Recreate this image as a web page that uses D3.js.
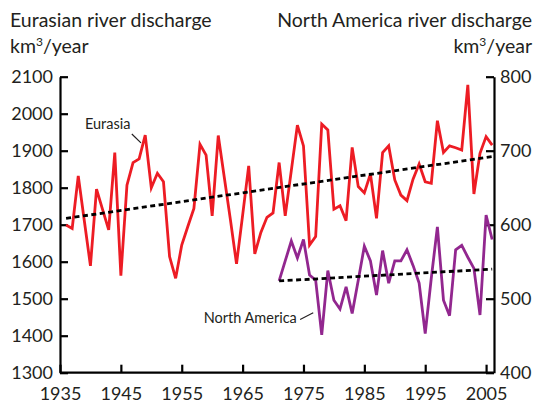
<!DOCTYPE html>
<html>
<head>
<meta charset="utf-8">
<script src="https://cdn.jsdelivr.net/npm/d3@7"></script>
<style>
  html, body { margin: 0; padding: 0; background: #fff; }
  svg { display: block; }
  text { font-family: Lato, "Noto Sans", sans-serif; fill: #231f20; }
</style>
</head>
<body>
<svg id="chart" width="534" height="403"></svg>
<script>
// ---- Data ----
const eurasiaYears = d3.range(1936, 2007);
const eurasiaValues = [
  1699, 1690, 1832, 1710, 1589, 1796, 1741, 1686, 1895, 1562,
  1807, 1868, 1878, 1942, 1800, 1839, 1816, 1614, 1555, 1645,
  1695, 1744, 1917, 1888, 1724, 1941, 1827, 1713, 1594, 1725,
  1859, 1621, 1679, 1720, 1732, 1868, 1724, 1846, 1969, 1913,
  1645, 1668, 1972, 1956, 1742, 1751, 1711, 1909, 1803, 1786,
  1837, 1717, 1895, 1913, 1821, 1780, 1765, 1823, 1864, 1816,
  1812, 1981, 1895, 1913, 1908, 1902, 2078, 1783, 1893, 1938, 1915
];
const naYears = d3.range(1971, 2007);
const naValues = [
  524, 551, 578, 555, 580, 532, 525, 451, 538, 498,
  486, 516, 480, 525, 571, 551, 505, 565, 521, 551,
  551, 566, 545, 521, 453, 528, 597, 498, 477, 566,
  572, 556, 541, 478, 613, 580
];
const eurasiaTrendYears = [1936, 2006];
const eurasiaTrendValues = [1717, 1884];
const naTrendYears = [1971, 2006];
const naTrendValues = [524, 540];

const xTicks = [1935, 1945, 1955, 1965, 1975, 1985, 1995, 2005];
const leftTicks = [1300, 1400, 1500, 1600, 1700, 1800, 1900, 2000, 2100];
const rightTicks = [400, 500, 600, 700, 800];

// ---- Layout ----
const svg = d3.select("#chart");
const plotLeft = 60, plotRight = 494, plotTop = 76.7, plotBottom = 372.7;
const x = d3.scaleLinear().domain([1935, 2006.3]).range([plotLeft, plotRight]);
const yL = d3.scaleLinear().domain([1300, 2100]).range([plotBottom, plotTop]);
const yR = d3.scaleLinear().domain([400, 800]).range([plotBottom, plotTop]);

const RED = "#ed1c24", PURPLE = "#92278f";

// ---- Axes ----
function styleAxis(g) {
  g.selectAll("path.domain").attr("stroke", "#000").attr("stroke-width", 2.2);
  g.selectAll(".tick line").attr("stroke", "#000").attr("stroke-width", 2.2);
  g.selectAll("text").attr("font-size", 18).attr("fill", "#231f20")
    .attr("font-family", "Lato, 'Noto Sans', sans-serif");
}

svg.append("g").attr("transform", `translate(${plotLeft},0)`)
  .call(d3.axisLeft(yL).tickValues(leftTicks).tickFormat(d3.format("d"))
    .tickSizeInner(-8).tickSizeOuter(0).tickPadding(7))
  .call(styleAxis);

svg.append("g").attr("transform", `translate(${plotRight},0)`)
  .call(d3.axisRight(yR).tickValues(rightTicks).tickFormat(d3.format("d"))
    .tickSizeInner(-8).tickSizeOuter(0).tickPadding(6))
  .call(styleAxis);

const xa = svg.append("g").attr("transform", `translate(0,${plotBottom})`)
  .call(d3.axisBottom(x).tickValues(xTicks).tickFormat(d3.format("d"))
    .tickSizeInner(-8).tickSizeOuter(0).tickPadding(15))
  .call(styleAxis);
xa.select("path.domain").attr("d", `M${plotLeft},0H${plotRight}`);

// ---- Lines ----
const eurasia = eurasiaYears.map((yr, i) => [yr, eurasiaValues[i]]);
const na = naYears.map((yr, i) => [yr, naValues[i]]);

svg.append("path").datum(eurasia)
  .attr("fill", "none").attr("stroke", RED).attr("stroke-width", 2.8)
  .attr("stroke-linejoin", "miter")
  .attr("d", d3.line().x(d => x(d[0])).y(d => yL(d[1])));

svg.append("path").datum(na)
  .attr("fill", "none").attr("stroke", PURPLE).attr("stroke-width", 2.8)
  .attr("stroke-linejoin", "miter")
  .attr("d", d3.line().x(d => x(d[0])).y(d => yR(d[1])));

// ---- Trend lines ----
svg.append("path").datum(eurasiaTrendYears.map((yr, i) => [yr, eurasiaTrendValues[i]]))
  .attr("fill", "none").attr("stroke", "#000").attr("stroke-width", 2.8)
  .attr("stroke-dasharray", "5,3.5")
  .attr("d", d3.line().x(d => x(d[0])).y(d => yL(d[1])));

svg.append("path").datum(naTrendYears.map((yr, i) => [yr, naTrendValues[i]]))
  .attr("fill", "none").attr("stroke", "#000").attr("stroke-width", 2.8)
  .attr("stroke-dasharray", "5,3.5")
  .attr("d", d3.line().x(d => x(d[0])).y(d => yR(d[1])));

// ---- Series labels with leader lines ----
svg.append("text").attr("x", x(1939.1)).attr("y", yL(1960)).attr("font-size", 14.5)
  .text("Eurasia");
svg.append("line")
  .attr("x1", x(1946.8)).attr("y1", yL(1945))
  .attr("x2", x(1948.3)).attr("y2", yL(1921))
  .attr("stroke", "#231f20").attr("stroke-width", 1.2);

svg.append("text").attr("x", x(1973.9)).attr("y", yR(467)).attr("font-size", 14.5)
  .attr("text-anchor", "end").text("North America");
svg.append("line")
  .attr("x1", x(1974.45)).attr("y1", yR(472))
  .attr("x2", x(1976.6)).attr("y2", yR(481))
  .attr("stroke", "#231f20").attr("stroke-width", 1.2);

// ---- Titles ----
svg.append("text").attr("x", 10).attr("y", 27).attr("font-size", 19.5)
  .text("Eurasian river discharge");
const kmL = svg.append("text").attr("x", 10).attr("y", 52.5).attr("font-size", 19.5);
kmL.append("tspan").text("km");
kmL.append("tspan").attr("dy", -7).attr("font-size", 12).text("3");
kmL.append("tspan").attr("dy", 7).text("/year");

svg.append("text").attr("x", 532).attr("y", 27).attr("font-size", 19.5)
  .attr("text-anchor", "end").text("North America river discharge");
const kmR = svg.append("text").attr("x", 532).attr("y", 52.5).attr("font-size", 19.5)
  .attr("text-anchor", "end");
kmR.append("tspan").text("km");
kmR.append("tspan").attr("dy", -7).attr("font-size", 12).text("3");
kmR.append("tspan").attr("dy", 7).text("/year");
</script>
</body>
</html>
